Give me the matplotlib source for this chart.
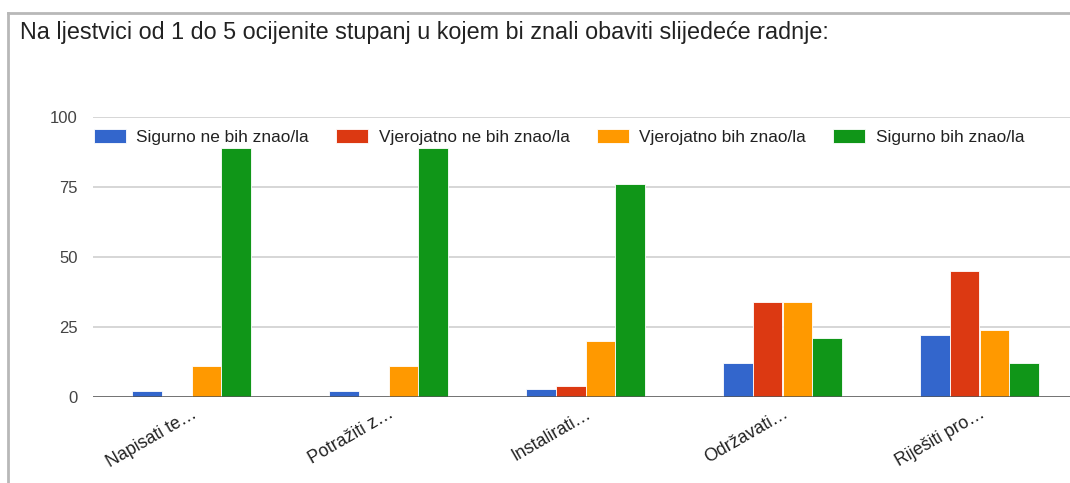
import numpy as np
import matplotlib.pyplot as plt
from matplotlib.lines import Line2D

plt.rcParams['font.family'] = ['Liberation Sans', 'DejaVu Sans']

title = 'Na ljestvici od 1 do 5 ocijenite stupanj u kojem bi znali obaviti slijedeće radnje:'
categories = ['Napisati te…', 'Potražiti z…', 'Instalirati…', 'Održavati…', 'Riješiti pro…']
series_names = ['Sigurno ne bih znao/la', 'Vjerojatno ne bih znao/la',
                'Vjerojatno bih znao/la', 'Sigurno bih znao/la']
sigurno_ne = [2, 2, 3, 12, 22]
vjerojatno_ne = [0, 0, 4, 34, 45]
vjerojatno_da = [11, 11, 20, 34, 24]
sigurno_da = [89, 89, 76, 21, 12]
y_ticks = [0, 25, 50, 75, 100]

colors = ['#3366cc', '#dc3912', '#ff9900', '#109618']
series = [sigurno_ne, vjerojatno_ne, vjerojatno_da, sigurno_da]

W, H = 1070, 483
fig = plt.figure(figsize=(W / 100, H / 100), dpi=100)
ax = fig.add_axes([93 / W, 1 - 397 / H, 985 / W, 280 / H])

x = np.arange(len(categories))
bw = 0.15
offsets = [-1.5 * bw, -0.5 * bw, 0.5 * bw, 1.5 * bw]
for vals, off, c, name in zip(series, offsets, colors, series_names):
    ax.bar(x + off, vals, width=bw, color=c, edgecolor='white', linewidth=0.6,
           label=name, zorder=3)

ax.set_xlim(-0.5, 4.5)
ax.set_ylim(0, 100)
ax.set_yticks(y_ticks)
ax.set_yticklabels([str(t) for t in y_ticks], fontsize=12, color='#444444')
ax.grid(axis='y', color='#d0d0d0', linewidth=1.2, zorder=0)
ax.axhline(0, color='#555555', linewidth=1.8, zorder=4)
for s in ax.spines.values():
    s.set_visible(False)
ax.tick_params(axis='y', length=0, pad=11)
ax.tick_params(axis='x', length=0, pad=6)
ax.set_xticks(x)
ax.set_xticklabels(categories, rotation=30, ha='right', rotation_mode='anchor',
                   fontsize=12.8, color='#222222')

ax.legend(loc='upper left', bbox_to_anchor=(-0.006, 0.98), ncol=4, frameon=False,
          fontsize=12.4, handlelength=1.85, handleheight=0.85, handletextpad=0.6,
          columnspacing=1.6, borderaxespad=0, labelcolor='#222222')

fig.text(20 / W, 1 - 33 / H, title, fontsize=16.8, color='#222222', va='center')

# outer frame of the screenshot
fig.add_artist(Line2D([8 / W, 8 / W], [0, 1 - 13 / H], color='#b8b8b8', lw=2))
fig.add_artist(Line2D([8 / W, 1], [1 - 13 / H, 1 - 13 / H], color='#b8b8b8', lw=2))

fig.savefig('out.png', dpi=100)
